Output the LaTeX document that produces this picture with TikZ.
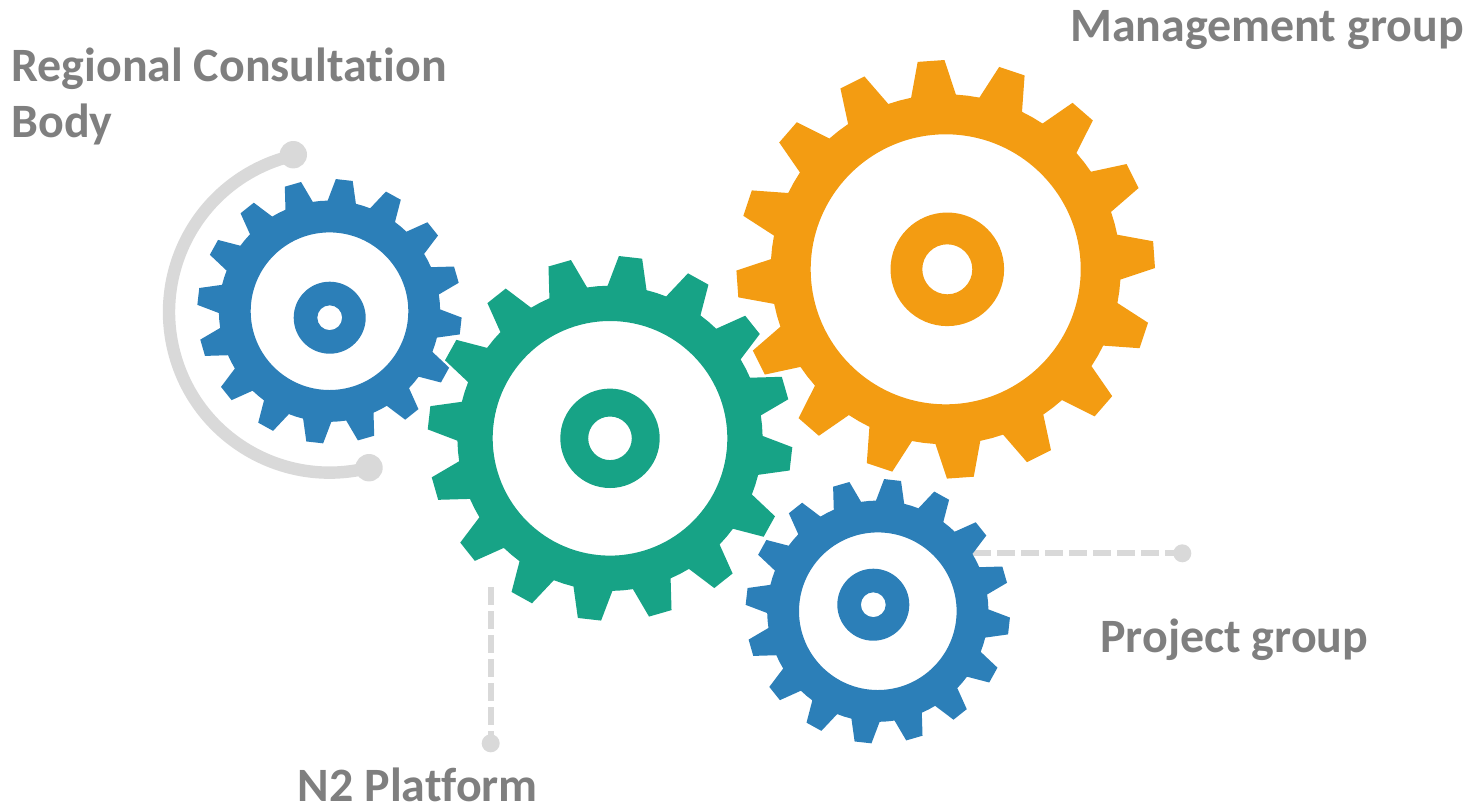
\documentclass[tikz,border=0pt]{standalone}
\usepackage{fontspec}
\setmainfont{Carlito}[Ligatures=NoCommon]
\usetikzlibrary{calc}
\definecolor{gorange}{HTML}{F39C12}
\definecolor{ggreen}{HTML}{17A386}
\definecolor{gblue}{HTML}{2C7FB8}
\definecolor{glight}{HTML}{D9D9D9}
\definecolor{gtext}{HTML}{7F7F7F}
% \gearwheel{colour}{cx}{cy}{tip radius}{first tooth angle, clockwise from north}{hole r}{hub dx,dy}{hub r}{eye r}
\newcommand{\gearwheel}[9]{%
  \pgfmathsetmacro{\rroot}{#4/1.196}%
  \fill[#1,even odd rule]
    \foreach \k in {0,...,15}{
      \pgfextra{%
        \pgfmathsetmacro{\aa}{#5-90+22.5*\k}%
        \pgfmathsetmacro{\ab}{\aa+3.7}%
        \pgfmathsetmacro{\ac}{\aa+11.05}%
        \pgfmathsetmacro{\ad}{\aa+14.75}%
        \pgfmathsetmacro{\am}{\aa+18.625}}
      \ifnum\k=0 ($(#2,#3)+(\aa:\rroot)$) \else -- ($(#2,#3)+(\aa:\rroot)$) \fi
      -- ($(#2,#3)+(\ab:#4)$) -- ($(#2,#3)+(\ac:#4)$) -- ($(#2,#3)+(\ad:\rroot)$)
      -- ($(#2,#3)+(\am:\rroot)$)
    } -- cycle
    (#2,#3) circle[x radius=#6,y radius=#6];
  \fill[#1,even odd rule] ($(#2,#3)+(#7)$) circle[x radius=#8,y radius=#8]
    ($(#2,#3)+(#7)$) circle[x radius=#9,y radius=#9];
}
\tikzset{
  label text/.style={font=\bfseries\fontsize{23.95}{29}\selectfont,text=gtext,inner sep=0pt,anchor=base west,align=left},
  end dot/.style={circle,fill=glight,draw=none,inner sep=0pt,minimum size=#1},
  leader/.style={draw=glight,line width=3pt,dash pattern=on 9pt off 3pt},
  ring/.style={draw=glight,line width=6.2pt}
}
\begin{document}
\begin{tikzpicture}[x=0.5pt,y=-0.5pt]
\useasboundingbox (0,0) rectangle (1476,804);
% grey arc behind left gear
\node[end dot=13.7pt] (arcA) at (293.3,154.7) {};
\node[end dot=13.7pt] (arcB) at (369,467.7) {};
\draw[ring] (arcB.center) arc[start angle=75.8,end angle=257,x radius=160.6,y radius=160.6];
% leaders
\node[end dot=9pt] (dotP) at (1182.3,553.3) {};
\node[end dot=9pt] (dotN) at (490.7,743.3) {};
\coordinate (gearP) at (973,553.3);
\coordinate (gearN) at (490.7,587.3);
\draw[leader] (gearP) -- (dotP.center);
\draw[leader] (gearN) -- (dotN.center);
% gears
\gearwheel{gorange}{945.7}{269.3}{209.3}{-11.4}{135}{1.6,0}{56.8}{25}
\gearwheel{ggreen}{610}{438.3}{182.5}{-0.9}{117.3}{0,0}{49.7}{21.8}
\gearwheel{gblue}{329.5}{311.2}{132.3}{-0.95}{78.8}{0.2,6.5}{36}{12.4}
\gearwheel{gblue}{877.8}{611.2}{132.3}{-0.95}{78.8}{-4.5,-6.5}{36}{12.4}
% labels
\node[label text] (mg) at (1070,41.7) {Management group};
\node[label text] (rc) at (11,81) {Regional Consultation};
\node[label text] (bd) at (11,137.5) {Body};
\node[label text] (pg) at (1100,652) {Project group};
\node[label text] (np) at (297.5,801.5) {N2 Platform};
\end{tikzpicture}
\end{document}
